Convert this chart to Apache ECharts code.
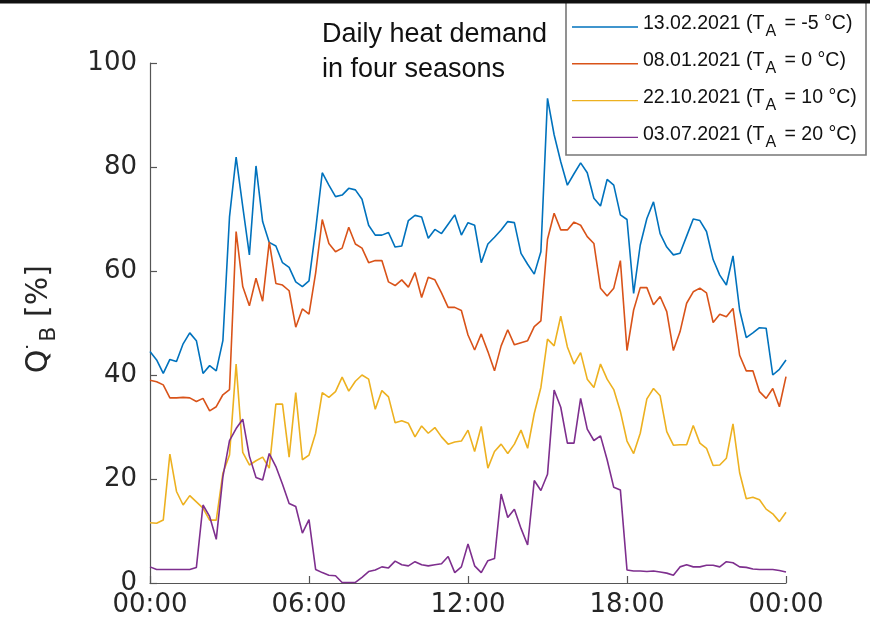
<!DOCTYPE html>
<html>
<head>
<meta charset="utf-8">
<title>Daily heat demand in four seasons</title>
<script src="https://cdn.jsdelivr.net/npm/echarts@6/dist/echarts.min.js"></script>
<style>
  html, body { margin: 0; padding: 0; background: #fff; }
  #chart { width: 870px; height: 619px; }
</style>
</head>
<body>
<div id="chart"></div>
<script>
// Quarter-hourly time stamps in hours (00:00 ... 24:00)
const steps = 97;
const hours = Array.from({ length: steps }, (_, i) => i * 0.25);

const seriesNames = ['13.02.2021', '08.01.2021', '22.10.2021', '03.07.2021'];
const ambientTemps = ['-5', '0', '10', '20'];

// Heat demand in percent of the maximum, one value per quarter hour
const feb13 = [
  44.5, 42.9, 40.3, 43.0, 42.6, 46.0, 48.1, 46.6, 40.3, 41.8,
  40.8, 46.6, 70.4, 81.9, 72.4, 63.1, 80.2, 69.5, 65.5, 64.8,
  61.6, 60.7, 57.9, 57.0, 58.1, 67.9, 78.9, 76.5, 74.3, 74.6,
  75.9, 75.6, 73.8, 68.8, 66.9, 66.9, 67.4, 64.6, 64.8, 69.7,
  70.7, 70.4, 66.3, 68.0, 67.2, 69.0, 70.8, 66.9, 69.3, 68.8,
  61.6, 65.2, 66.5, 67.9, 69.5, 69.3, 63.4, 61.3, 59.4, 63.7,
  93.2, 86.2, 81.0, 76.5, 78.7, 80.8, 78.9, 74.0, 72.5, 77.6,
  76.5, 70.8, 69.9, 55.7, 65.0, 70.1, 73.3, 67.2, 64.6, 63.1,
  63.4, 66.7, 70.0, 69.7, 67.6, 62.2, 59.2, 57.3, 62.9, 52.5,
  47.2, 48.1, 49.1, 49.0, 40.0, 41.1, 42.9
];
const jan08 = [
  39.0, 38.7, 38.1, 35.6, 35.6, 35.7, 35.6, 34.9, 35.5, 33.1,
  33.9, 36.2, 37.2, 67.6, 57.0, 53.3, 58.6, 54.2, 65.6, 57.6,
  57.3, 56.2, 49.2, 52.7, 51.7, 59.6, 69.9, 65.3, 63.7, 64.4,
  68.4, 65.2, 64.4, 61.6, 62.0, 62.0, 57.9, 57.2, 58.3, 56.9,
  59.7, 54.9, 58.8, 58.3, 55.8, 53.0, 53.0, 52.4, 47.7, 44.8,
  47.9, 44.5, 40.8, 45.6, 48.7, 45.8, 46.2, 46.6, 49.3, 50.4,
  66.1, 71.1, 67.9, 67.9, 69.4, 68.8, 66.6, 65.3, 56.7, 55.2,
  56.7, 62.0, 44.7, 52.5, 56.8, 56.8, 53.5, 55.1, 52.2, 44.7,
  48.3, 53.8, 56.0, 56.7, 55.8, 50.1, 51.7, 51.2, 52.8, 43.8,
  40.8, 40.8, 36.8, 35.5, 37.4, 33.9, 39.7
];
const oct22 = [
  11.6, 11.5, 12.1, 24.8, 17.6, 15.0, 16.8, 15.6, 14.4, 12.1,
  12.1, 21.1, 24.6, 42.1, 25.1, 22.7, 23.5, 24.2, 22.1, 34.4,
  34.4, 24.2, 36.6, 23.7, 24.6, 28.8, 36.6, 35.7, 36.8, 39.6,
  36.9, 38.8, 40.0, 39.2, 33.4, 37.0, 35.8, 30.8, 31.2, 30.7,
  28.1, 30.2, 28.8, 29.9, 28.1, 26.7, 27.1, 27.3, 29.4, 25.3,
  30.1, 22.1, 25.3, 26.7, 24.9, 26.7, 29.4, 25.9, 32.6, 37.6,
  46.9, 45.6, 51.3, 45.4, 42.1, 44.3, 39.2, 37.6, 42.1, 39.2,
  37.2, 33.0, 27.3, 24.9, 28.8, 35.4, 37.4, 36.0, 29.1, 26.5,
  26.6, 26.6, 30.3, 26.9, 25.9, 22.6, 22.7, 24.0, 30.6, 21.2,
  16.2, 16.5, 16.0, 14.2, 13.3, 11.8, 13.6
];
const jul03 = [
  3.1, 2.6, 2.6, 2.6, 2.6, 2.6, 2.6, 3.0, 15.0, 12.8,
  8.4, 20.4, 27.4, 29.7, 31.5, 24.4, 20.3, 19.8, 24.9, 22.4,
  19.0, 15.3, 14.7, 9.6, 12.2, 2.6, 2.0, 1.5, 1.4, 0.1,
  0.1, 0.1, 1.1, 2.2, 2.5, 3.1, 2.9, 4.2, 3.5, 3.3,
  4.1, 3.5, 3.3, 3.5, 3.7, 5.1, 2.0, 3.1, 7.5, 3.3,
  2.0, 4.3, 4.7, 17.1, 12.6, 14.2, 10.5, 7.3, 19.7, 17.8,
  20.9, 37.1, 33.8, 26.9, 26.9, 35.5, 29.6, 27.4, 28.3, 23.7,
  18.4, 17.9, 2.5, 2.3, 2.3, 2.2, 2.3, 2.1, 1.9, 1.5,
  3.1, 3.5, 3.1, 3.1, 3.4, 3.4, 3.1, 4.1, 3.9, 3.1,
  3.0, 2.7, 2.6, 2.6, 2.6, 2.4, 2.1
];

const xTicks = [0, 6, 12, 18, 24];
const xTickLabels = ['00:00', '06:00', '12:00', '18:00', '00:00'];
const yTicks = [0, 20, 40, 60, 80, 100];

const colors = ['#0072BD', '#D95319', '#EDB120', '#7E2F8E'];
const values = [feb13, jan08, oct22, jul03];

const axisFont = 'DejaVu Sans';
const textFont = 'Liberation Sans';
const axisColor = '#262626';

const chart = echarts.init(document.getElementById('chart'), null, { renderer: 'canvas' });

const series = seriesNames.map((name, k) => ({
  name: name,
  type: 'line',
  symbol: 'none',
  animation: false,
  data: hours.map((h, i) => [h, values[k][i]]),
  lineStyle: { color: colors[k], width: 1.6 },
  itemStyle: { color: colors[k] },
  z: 2
}));

chart.setOption({
  animation: false,
  backgroundColor: '#fff',
  grid: { left: 150, right: 84, top: 63, bottom: 36, containLabel: false },
  xAxis: {
    type: 'value',
    min: xTicks[0],
    max: xTicks[xTicks.length - 1],
    interval: 6,
    axisLine: { onZero: false, lineStyle: { color: '#555', width: 1.2 } },
    axisTick: { inside: true, length: 7, lineStyle: { color: '#555', width: 1.2 } },
    splitLine: { show: false },
    axisLabel: {
      margin: 9,
      color: axisColor,
      fontFamily: axisFont,
      fontSize: 26,
      formatter: v => xTickLabels[xTicks.indexOf(v)] || ''
    }
  },
  yAxis: {
    type: 'value',
    min: yTicks[0],
    max: yTicks[yTicks.length - 1],
    interval: 20,
    axisLine: { show: true, lineStyle: { color: '#555', width: 1.2 } },
    axisTick: { show: true, inside: true, length: 7, lineStyle: { color: '#555', width: 1.2 } },
    splitLine: { show: false },
    axisLabel: {
      margin: 13,
      color: axisColor,
      fontFamily: axisFont,
      fontSize: 26
    }
  },
  legend: {
    orient: 'vertical',
    left: 572,
    top: 14,
    icon: 'rect',
    itemWidth: 66,
    itemHeight: 1.4,
    itemGap: 10.8,
    padding: 0,
    selectedMode: false,
    data: seriesNames,
    formatter: name => {
      const t = ambientTemps[seriesNames.indexOf(name)];
      return '{m|' + name + ' (T}{s|A}{m| = ' + t + ' °C)} ';
    },
    textStyle: {
      fontFamily: textFont,
      fontSize: 19,
      color: '#111',
      lineHeight: 26,
      rich: {
        m: { fontFamily: textFont, fontSize: 19.5, lineHeight: 18, verticalAlign: 'top', color: '#111' },
        s: { fontFamily: textFont, fontSize: 16, lineHeight: 16, verticalAlign: 'bottom', padding: [0, 3, 0, 1], color: '#111' }
      }
    },
    z: 5
  },
  graphic: [
    {
      type: 'rect',
      z: 3,
      shape: { x: 566, y: 2, width: 300, height: 153 },
      style: { fill: '#fff', stroke: '#777', lineWidth: 1.6 }
    },
    {
      type: 'rect',
      z: 6,
      shape: { x: 0, y: 0, width: 870, height: 3.5 },
      style: { fill: '#111' }
    },
    {
      type: 'text',
      z: 6,
      left: 322,
      top: 17,
      style: {
        text: 'Daily heat demand\nin four seasons',
        fontFamily: textFont,
        fontSize: 27,
        lineHeight: 35,
        fill: '#111'
      }
    },
    {
      type: 'text',
      z: 6,
      x: 42,
      y: 316,
      rotation: Math.PI / 2,
      style: {
        text: '{q|Q}{d|˙}{b|B}{q| [%]} ',
        align: 'center',
        verticalAlign: 'middle',
        fontFamily: axisFont,
        fontSize: 20,
        lineHeight: 36,
        rich: {
          q: { fontFamily: axisFont, fontSize: 30, lineHeight: 30, verticalAlign: 'top', fill: axisColor },
          d: { fontFamily: textFont, fontSize: 24, lineHeight: 17, verticalAlign: 'top', fill: axisColor },
          b: { fontFamily: axisFont, fontSize: 22, lineHeight: 22, verticalAlign: 'bottom', fill: axisColor }
        }
      }
    }
  ],
  series: series
});
</script>
</body>
</html>
